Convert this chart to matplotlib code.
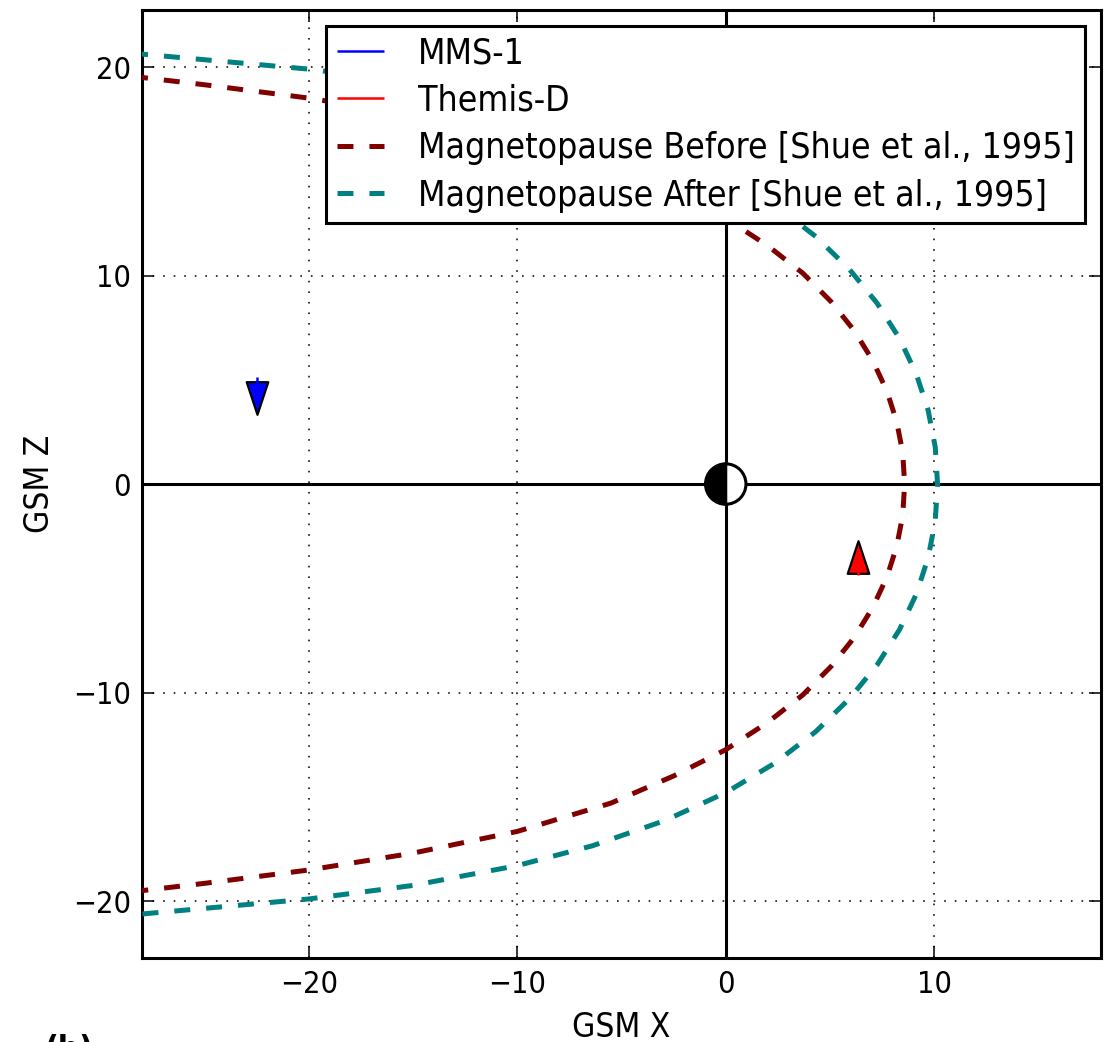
import matplotlib
matplotlib.use('Agg')
import matplotlib.pyplot as plt
import matplotlib.path as mpath
from matplotlib.patches import Wedge

plt.rcParams['font.family'] = ['DejaVu Sans']
plt.rcParams['font.stretch'] = 'condensed'
plt.rcParams['lines.scale_dashes'] = False

# ---- data ----
# Magnetopause (upper branch, tail -> nose); lower branch is the mirror image
before_x = [-30.0, -28.0, -25.0, -20.0, -15.0, -10.0, -5.5, -2.5, 0.0, 2.0, 3.7, 5.05, 6.17, 7.05, 7.73, 8.2, 8.49, 8.58]
before_z = [19.72, 19.5, 19.15, 18.51, 17.7, 16.66, 15.3, 14.0, 12.74, 11.44, 10.11, 8.75, 7.35, 5.92, 4.46, 2.99, 1.5, 0.0]
after_x = [-30.0, -28.0, -25.0, -20.0, -15.0, -10.0, -6.4, -2.9, 0.0, 2.36, 4.32, 5.94, 7.27, 8.33, 9.14, 9.71, 10.05, 10.16]
after_z = [20.8, 20.62, 20.35, 19.9, 19.25, 18.3, 17.35, 16.13, 14.8, 13.38, 11.87, 10.29, 8.66, 6.99, 5.28, 3.53, 1.77, 0.0]

# spacecraft positions (GSM X, GSM Z) and short track segments
mms_pos = (-22.5, 4.13)
mms_track_z = [4.6, 5.15]
themis_pos = (6.33, -3.52)
themis_track_z = [-3.7, -4.36]

labels = ['MMS-1', 'Themis-D',
          'Magnetopause Before [Shue et al., 1995]',
          'Magnetopause After [Shue et al., 1995]']
xticks = [-20, -10, 0, 10]
yticks = [-20, -10, 0, 10, 20]

# ---- figure ----
W, H = 1104, 1042
fig = plt.figure(figsize=(W / 100, H / 100), dpi=100)
ax = fig.add_axes([142 / W, (H - 958.4) / H, 959 / W, 948.7 / H])

ax.set_xlim(-28, 18)
ax.set_ylim(-22.75, 22.75)
ax.set_xticks(xticks)
ax.set_yticks(yticks)

ax.grid(True, color='black', linestyle=(0, (1.2, 6.4)), linewidth=1.1, zorder=1)
ax.set_axisbelow(True)
ax.axhline(0, color='black', lw=2.2, zorder=2.5)
ax.axvline(0, color='black', lw=2.2, zorder=2.5)

def full(xs, zs):
    X = list(xs) + list(xs[-2::-1])
    Z = list(zs) + [-z for z in zs[-2::-1]]
    return X, Z

bx, bz = full(before_x, before_z)
axx, azz = full(after_x, after_z)
l_before, = ax.plot(bx, bz, color='#800000', lw=3.6, dashes=(11.5, 11.5), zorder=3)
l_after, = ax.plot(axx, azz, color='#008080', lw=3.6, dashes=(11.5, 11.5), zorder=3)

down_tri = mpath.Path([(-0.66, 1), (0.66, 1), (0, -1), (-0.66, 1)],
                      [mpath.Path.MOVETO, mpath.Path.LINETO, mpath.Path.LINETO, mpath.Path.CLOSEPOLY])
up_tri = mpath.Path([(-0.66, -1), (0.66, -1), (0, 1), (-0.66, -1)],
                    [mpath.Path.MOVETO, mpath.Path.LINETO, mpath.Path.LINETO, mpath.Path.CLOSEPOLY])

ax.plot([mms_pos[0]], [mms_pos[1]], ls='none', marker=down_tri, ms=23.5,
        mfc='blue', mec='black', mew=1.6, zorder=4)
l_mms, = ax.plot([mms_pos[0]] * 2, mms_track_z, color='blue', lw=1.8,
                 solid_capstyle='butt', zorder=5)
ax.plot([themis_pos[0]], [themis_pos[1]], ls='none', marker=up_tri, ms=23.5,
        mfc='red', mec='black', mew=1.6, zorder=4)
l_th, = ax.plot([themis_pos[0]] * 2, themis_track_z, color='red', lw=1.8,
                solid_capstyle='butt', zorder=5)

# Earth
ax.add_patch(Wedge((0, 0), 0.97, 90, 270, facecolor='black', edgecolor='black', lw=2.2, zorder=6))
ax.add_patch(Wedge((0, 0), 0.97, 270, 90, facecolor='white', edgecolor='black', lw=2.2, zorder=6))

leg = ax.legend([l_mms, l_th, l_before, l_after], labels, loc='upper right',
                fontsize=25.5, handlelength=1.33, handletextpad=0.95, labelspacing=0.38,
                borderaxespad=0.45, borderpad=0.3, fancybox=False, framealpha=1,
                edgecolor='black')
leg.get_frame().set_linewidth(2.2)
leg.set_zorder(10)

for s in ax.spines.values():
    s.set_linewidth(2.2)
ax.tick_params(direction='in', length=8.6, width=1.1, top=True, right=True,
               labelsize=22, pad=8)
ax.set_xlabel('GSM X', fontsize=24, labelpad=9)
ax.set_ylabel('GSM Z', fontsize=24, labelpad=12)

fig.text(0.04, (H - 1034) / H, '(b)', fontsize=24, fontweight='bold', va='top')

fig.savefig('out.png', dpi=100)
